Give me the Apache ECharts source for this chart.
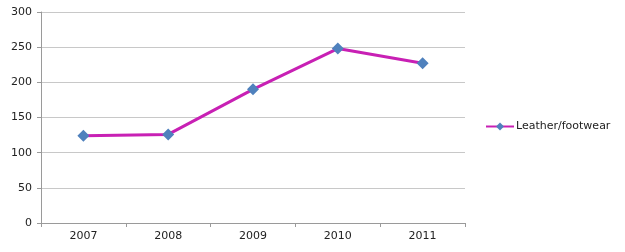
<!DOCTYPE html>
<html><head><meta charset="utf-8">
<script src="https://cdn.jsdelivr.net/npm/echarts@6/dist/echarts.min.js"></script>
<style>html,body{margin:0;padding:0;background:#fff}#c{width:625px;height:252px}</style>
</head><body><div id="c"></div>
<script>
const categories = ['2007','2008','2009','2010','2011'];
const values = [124, 126, 190, 248, 227];
const seriesName = 'Leather/footwear';

const chart = echarts.init(document.getElementById('c'));
chart.setOption({
  animation: false,
  grid: {left: 41, right: 160, top: 12, bottom: 29},
  legend: {
    data: [seriesName],
    left: 480, top: 116, itemWidth: 28, itemHeight: 10, itemGap: 2,
    textStyle: {fontFamily: 'DejaVu Sans', fontSize: 11, color: '#222', padding: [0,0,0,-3]}
  },
  xAxis: {
    type: 'category', data: categories, boundaryGap: true,
    axisLine: {lineStyle: {color: '#9a9a9a'}},
    axisTick: {show: true, length: 4, lineStyle: {color: '#9a9a9a'}},
    axisLabel: {fontFamily: 'DejaVu Sans', fontSize: 11, color: '#222', margin: 8}
  },
  yAxis: {
    type: 'value', min: 0, max: 300, interval: 50,
    axisLine: {show: true, lineStyle: {color: '#9a9a9a'}},
    axisTick: {show: true, length: 4, lineStyle: {color: '#9a9a9a'}},
    splitLine: {lineStyle: {color: '#c8c8c8'}},
    axisLabel: {fontFamily: 'DejaVu Sans', fontSize: 11, color: '#222', margin: 9}
  },
  series: [{
    name: seriesName, type: 'line', data: values,
    lineStyle: {color: '#c820b4', width: 3},
    itemStyle: {color: '#4f81bd'},
    symbol: 'diamond', symbolSize: 12,
    z: 3
  }]
});
</script></body></html>
